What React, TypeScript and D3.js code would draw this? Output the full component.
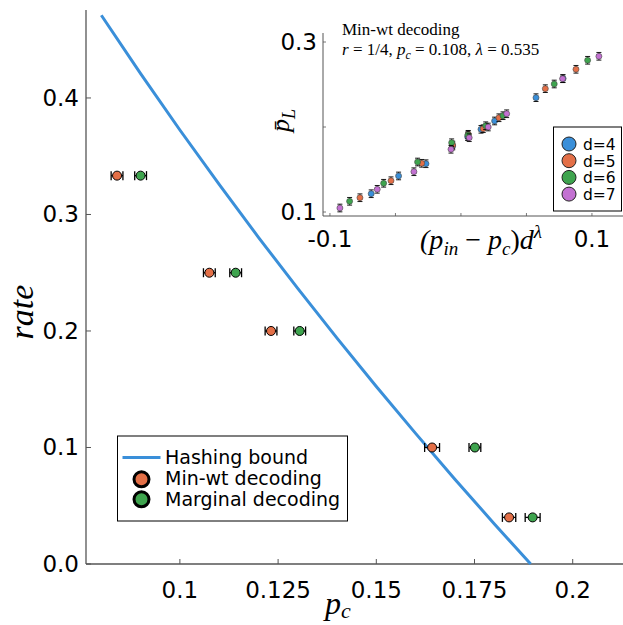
import React from "react";
import * as d3 from "d3";

const W = 623;
const H = 625;

// ---- main panel data ----
const rates = [1 / 3, 0.25, 0.2, 0.1, 0.04];
const minwtPc = [0.084, 0.1075, 0.1232, 0.1642, 0.1838];
const minwtErr = [0.0015, 0.0015, 0.0015, 0.0019, 0.0017];
const marginalPc = [0.09, 0.1142, 0.1305, 0.1751, 0.1898];
const marginalErr = [0.0015, 0.0015, 0.0015, 0.0015, 0.0019];

// hashing bound
const hashP = [0.08, 0.09, 0.1, 0.11, 0.12, 0.13, 0.14, 0.15, 0.16, 0.17, 0.18, 0.1893];
const hashRate = [0.471, 0.4209, 0.3725, 0.3258, 0.2804, 0.2365, 0.1939, 0.1524, 0.1121, 0.0728, 0.0346, 0];

const xTicks = [0.1, 0.125, 0.15, 0.175, 0.2];
const xTickLabels = ["0.1", "0.125", "0.15", "0.175", "0.2"];
const yTicks = [0, 0.1, 0.2, 0.3, 0.4];
const yTickLabels = ["0.0", "0.1", "0.2", "0.3", "0.4"];

// ---- inset data ----
const dLabels = ["d=4", "d=5", "d=6", "d=7"];
const d4X = [-0.0685, -0.0476, -0.0267, -0.0063, 0.0051, 0.0153, 0.0257, 0.0573, 0.078];
const d4Y = [0.1215, 0.1424, 0.1568, 0.1776, 0.1886, 0.1973, 0.2071, 0.2345, 0.257];
const d5X = [-0.0771, -0.0534, -0.03, -0.0063, 0.0056, 0.017, 0.029, 0.0644, 0.0878];
const d5Y = [0.1168, 0.1368, 0.1573, 0.1788, 0.1914, 0.198, 0.2109, 0.2451, 0.2679];
const d6X = [-0.085, -0.059, -0.0331, -0.0071, 0.0053, 0.0189, 0.0321, 0.0712, 0.0967];
const d6Y = [0.1126, 0.1338, 0.1588, 0.1815, 0.1906, 0.2015, 0.2133, 0.2506, 0.2785];
const d7X = [-0.0924, -0.0639, -0.0359, -0.0076, 0.0063, 0.0208, 0.0349, 0.0776, 0.1053];
const d7Y = [0.1047, 0.1267, 0.1474, 0.1738, 0.1874, 0.2, 0.2156, 0.2568, 0.2832];
const insetErr = 0.0045;

const inXTicks = [-0.1, -0.05, 0, 0.05, 0.1];
const inXTickLabels = ["-0.1", "", "", "", "0.1"];
const inYTicks = [0.1, 0.2, 0.3];
const inYTickLabels = ["0.1", "", "0.3"];

const BLUE = "#3a8fd9";
const ORANGE = "#e36f47";
const GREEN = "#3ea44e";
const PURPLE = "#c371d2";
const AXIS = "#555";
const SANS = "DejaVu Sans, sans-serif";
const SERIF = "Liberation Serif, DejaVu Serif, serif";

const MAIN = { left: 86, right: 623, top: 10, bottom: 564 };
const INSET = { left: 323, right: 623, top: 33, bottom: 216 };

export default function App() {
  const x = d3.scaleLinear().domain([0.0761, 0.2128]).range([MAIN.left, MAIN.right]);
  const y = d3.scaleLinear().domain([0, 0.4755]).range([MAIN.bottom, MAIN.top]);

  const ix = d3.scaleLinear().domain([-0.1053, 0.1237]).range([INSET.left, INSET.right]);
  const iy = d3.scaleLinear().domain([0.0953, 0.3106]).range([INSET.bottom, INSET.top]);

  const hashLine = d3
    .line<number>()
    .x((_, i) => x(hashP[i]))
    .y((d) => y(d))(hashRate);

  const mainSeries = [
    { pc: minwtPc, err: minwtErr, color: ORANGE },
    { pc: marginalPc, err: marginalErr, color: GREEN },
  ];

  const insetSeries = [
    { xs: d4X, ys: d4Y, color: BLUE },
    { xs: d5X, ys: d5Y, color: ORANGE },
    { xs: d6X, ys: d6Y, color: GREEN },
    { xs: d7X, ys: d7Y, color: PURPLE },
  ];
  const insetColors = [BLUE, ORANGE, GREEN, PURPLE];

  return (
    <svg
      width={W}
      height={H}
      style={{ position: "absolute", left: 0, top: 0, background: "#fff" }}
    >
      {/* main axes */}
      <line x1={MAIN.left} x2={MAIN.right} y1={MAIN.bottom} y2={MAIN.bottom} stroke={AXIS} strokeWidth={1.3} />
      <line x1={MAIN.left} x2={MAIN.left} y1={MAIN.top} y2={MAIN.bottom} stroke={AXIS} strokeWidth={1.3} />
      {xTicks.map((t, i) => (
        <g key={"xt" + i}>
          <line x1={x(t)} x2={x(t)} y1={MAIN.bottom} y2={MAIN.bottom - 5} stroke={AXIS} strokeWidth={1} />
          <text x={x(t)} y={MAIN.bottom + 34} textAnchor="middle" fontFamily={SANS} fontSize={23}>
            {xTickLabels[i]}
          </text>
        </g>
      ))}
      {yTicks.map((t, i) => (
        <g key={"yt" + i}>
          <line x1={MAIN.left} x2={MAIN.left + 5} y1={y(t)} y2={y(t)} stroke={AXIS} strokeWidth={1} />
          <text x={MAIN.left - 7} y={y(t) + 8} textAnchor="end" fontFamily={SANS} fontSize={23}>
            {yTickLabels[i]}
          </text>
        </g>
      ))}
      <text
        transform={`translate(33, 312) rotate(-90)`}
        textAnchor="middle"
        fontFamily={SERIF}
        fontStyle="italic"
        fontSize={34}
      >
        rate
      </text>
      <text x={338} y={614} textAnchor="middle" fontFamily={SERIF} fontStyle="italic" fontSize={32}>
        p
        <tspan fontSize={22} dy={4}>c</tspan>
      </text>

      {/* hashing bound */}
      <path d={hashLine ?? ""} fill="none" stroke={BLUE} strokeWidth={3} />

      {/* decoders with horizontal error bars */}
      {mainSeries.map((s, si) => (
        <g key={"ms" + si}>
          {rates.map((r, i) => {
            const cx = x(s.pc[i]);
            const cy = y(r);
            const x0 = x(s.pc[i] - s.err[i]);
            const x1 = x(s.pc[i] + s.err[i]);
            return (
              <g key={i}>
                <line x1={x0} x2={x1} y1={cy} y2={cy} stroke="#000" strokeWidth={1.3} />
                <line x1={x0} x2={x0} y1={cy - 4.5} y2={cy + 4.5} stroke="#000" strokeWidth={1.3} />
                <line x1={x1} x2={x1} y1={cy - 4.5} y2={cy + 4.5} stroke="#000" strokeWidth={1.3} />
                <circle cx={cx} cy={cy} r={4.5} fill={s.color} stroke="#000" strokeWidth={1} />
              </g>
            );
          })}
        </g>
      ))}

      {/* main legend */}
      <g>
        <rect x={117.5} y={436} width={230} height={85} fill="#fff" stroke="#000" strokeWidth={1} />
        <line x1={122.5} x2={160.5} y1={457.5} y2={457.5} stroke={BLUE} strokeWidth={3} />
        <circle cx={141.5} cy={479.3} r={7.5} fill={ORANGE} stroke="#000" strokeWidth={3} />
        <circle cx={141.5} cy={499.3} r={7.5} fill={GREEN} stroke="#000" strokeWidth={3} />
        {["Hashing bound", "Min-wt decoding", "Marginal decoding"].map((t, i) => (
          <text key={t} x={165} y={464 + i * 21} fontFamily={SANS} fontSize={19}>
            {t}
          </text>
        ))}
      </g>

      {/* inset axes */}
      <line x1={INSET.left} x2={INSET.right} y1={INSET.bottom} y2={INSET.bottom} stroke={AXIS} strokeWidth={1} />
      <line x1={INSET.left} x2={INSET.left} y1={INSET.top} y2={INSET.bottom} stroke={AXIS} strokeWidth={1} />
      {inXTicks.map((t, i) => (
        <g key={"ixt" + i}>
          <line x1={ix(t)} x2={ix(t)} y1={INSET.bottom} y2={INSET.bottom - 3} stroke={AXIS} strokeWidth={0.8} />
          <text x={ix(t)} y={INSET.bottom + 31} textAnchor="middle" fontFamily={SANS} fontSize={23}>
            {inXTickLabels[i]}
          </text>
        </g>
      ))}
      {inYTicks.map((t, i) => (
        <g key={"iyt" + i}>
          <line x1={INSET.left} x2={INSET.left + 3} y1={iy(t)} y2={iy(t)} stroke={AXIS} strokeWidth={0.8} />
          <text x={INSET.left - 6} y={iy(t) + 8} textAnchor="end" fontFamily={SANS} fontSize={23}>
            {inYTickLabels[i]}
          </text>
        </g>
      ))}
      <text x={481} y={249} textAnchor="middle" fontFamily={SERIF} fontStyle="italic" fontSize={28}>
        (p<tspan fontSize={19} dy={6}>in</tspan>
        <tspan dy={-6} fontStyle="normal"> − </tspan>p
        <tspan fontSize={19} dy={6}>c</tspan>
        <tspan dy={-6} fontStyle="normal">)</tspan>d
        <tspan fontSize={19} dy={-11}>λ</tspan>
      </text>
      <text
        transform={`translate(289, ${(INSET.top + INSET.bottom) / 2 - 4}) rotate(-90)`}
        textAnchor="middle"
        fontFamily={SERIF}
        fontStyle="italic"
        fontSize={26}
      >
        p̄<tspan fontSize={18} dy={6}>L</tspan>
      </text>
      <text x={342} y={35} fontFamily={SERIF} fontSize={17}>
        Min-wt decoding
      </text>
      <text x={342} y={55} fontFamily={SERIF} fontSize={17}>
        <tspan fontStyle="italic">r</tspan> = 1/4, <tspan fontStyle="italic">p</tspan>
        <tspan fontStyle="italic" fontSize={12} dy={4}>c</tspan>
        <tspan dy={-4}> = 0.108, </tspan>
        <tspan fontStyle="italic">λ</tspan> = 0.535
      </text>

      {/* inset points */}
      {insetSeries.map((s, si) => (
        <g key={"is" + si}>
          {s.xs.map((v, i) => {
            const cx = ix(v);
            const cy = iy(s.ys[i]);
            const y0 = iy(s.ys[i] - insetErr);
            const y1 = iy(s.ys[i] + insetErr);
            return (
              <g key={i}>
                <line x1={cx} x2={cx} y1={y0} y2={y1} stroke="#000" strokeWidth={0.9} />
                <line x1={cx - 2.5} x2={cx + 2.5} y1={y0} y2={y0} stroke="#000" strokeWidth={0.9} />
                <line x1={cx - 2.5} x2={cx + 2.5} y1={y1} y2={y1} stroke="#000" strokeWidth={0.9} />
                <circle cx={cx} cy={cy} r={3} fill={s.color} stroke="#444" strokeWidth={0.6} />
              </g>
            );
          })}
        </g>
      ))}

      {/* inset legend */}
      <g>
        <rect x={553.5} y={127} width={68} height={84} fill="#fff" stroke="#000" strokeWidth={1} />
        {dLabels.map((t, i) => (
          <g key={t}>
            <circle cx={569} cy={144 + i * 16.7} r={7} fill={insetColors[i]} stroke="#222" strokeWidth={1} />
            <text x={583} y={150 + i * 16.7} fontFamily={SANS} fontSize={15.5}>
              {t}
            </text>
          </g>
        ))}
      </g>
    </svg>
  );
}
